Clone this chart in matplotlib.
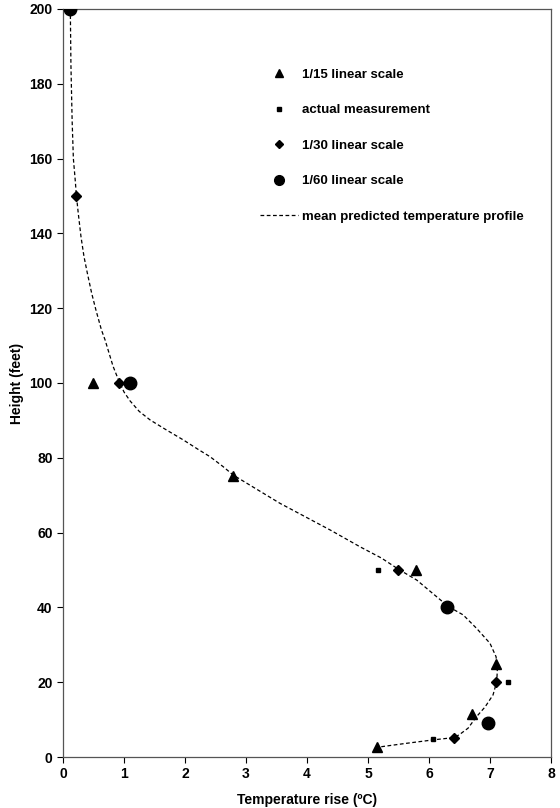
import matplotlib
matplotlib.use("Agg")
import matplotlib.pyplot as plt
from matplotlib.lines import Line2D

plt.rcParams['font.family'] = ['Liberation Sans', 'DejaVu Sans']
plt.rcParams['font.weight'] = 'bold'

# Data (Temperature rise in degC, Height in feet)
tri_x = [0.50, 2.78, 5.78, 7.10, 6.70, 5.15]
tri_y = [100, 75, 50, 25, 11.4, 2.6]

meas_x = [5.16, 7.30, 6.07]
meas_y = [50, 20, 4.8]

dia_x = [0.21, 0.91, 5.50, 7.10, 6.41]
dia_y = [150, 100, 50, 20, 5.0]

cir_x = [0.12, 1.10, 6.30, 6.96]
cir_y = [200, 100, 40.2, 9.2]

curve_x = [0.12, 0.13, 0.15, 0.17, 0.20, 0.22, 0.25, 0.295, 0.344, 0.40, 0.47,
           0.54, 0.63, 0.69, 0.74, 0.82, 0.91, 1.00, 1.10, 1.25, 1.43, 1.70,
           1.97, 2.22, 2.41, 2.62, 2.79, 3.56, 4.38, 4.87, 5.22, 5.50, 5.80,
           6.32, 6.56, 6.78, 7.00, 7.10, 7.12, 7.11, 7.05, 6.92, 6.78, 6.64,
           6.50, 6.41, 6.08, 5.60, 5.15]
curve_y = [200, 185, 170, 160, 154.3, 150.1, 145.4, 139.1, 133.8, 129.3, 124,
           119.5, 114.2, 111.5, 108.8, 104.5, 100.8, 97.6, 95.2, 92.4, 90.1, 87.4,
           84.8, 82.2, 80.3, 77.7, 75.4, 67.8, 60.7, 56.2, 53.2, 50.2, 47.3,
           40.2, 38.0, 34.4, 30.4, 26.8, 23.0, 20.1, 16.6, 13.4, 10.8, 7.7,
           6.0, 5.2, 4.6, 3.6, 2.6]

fig = plt.figure(figsize=(5.6, 8.08), dpi=100)
ax = fig.add_axes([0.1125, 0.0631, 0.8714, 0.9258])

ax.plot(curve_x, curve_y, linestyle=(0, (3, 2)), color='black', linewidth=0.9, zorder=2)
ax.plot(tri_x, tri_y, linestyle='none', marker='^', color='black', markersize=7, zorder=3)
ax.plot(meas_x, meas_y, linestyle='none', marker='s', color='black', markersize=3.5, zorder=3)
ax.plot(dia_x, dia_y, linestyle='none', marker='D', color='black', markersize=5, zorder=3)
ax.plot(cir_x, cir_y, linestyle='none', marker='o', color='black', markersize=9, zorder=3)

ax.set_xlim(0, 8)
ax.set_ylim(0, 200)
ax.set_xticks(range(0, 9))
ax.set_yticks(range(0, 201, 20))
ax.tick_params(direction='out', length=4, width=0.8, labelsize=10, colors='black')
for lab in ax.get_xticklabels() + ax.get_yticklabels():
    lab.set_fontweight('bold')
for s in ax.spines.values():
    s.set_color('#555555')
    s.set_linewidth(0.9)

ax.set_xlabel('Temperature rise (ºC)', fontsize=10, fontweight='bold', labelpad=8)
ax.set_ylabel('Height (feet)', fontsize=10, fontweight='bold', labelpad=4)

handles = [
    Line2D([], [], linestyle='none', marker='^', color='black', markersize=6),
    Line2D([], [], linestyle='none', marker='s', color='black', markersize=3),
    Line2D([], [], linestyle='none', marker='D', color='black', markersize=4.5),
    Line2D([], [], linestyle='none', marker='o', color='black', markersize=7),
    Line2D([], [], linestyle=(0, (3, 2)), color='black', linewidth=0.9),
]
labels = ['1/15 linear scale', 'actual measurement', '1/30 linear scale',
          '1/60 linear scale', 'mean predicted temperature profile']
leg = ax.legend(handles, labels, loc='upper left', bbox_to_anchor=(0.379, 0.936),
                frameon=False, labelspacing=1.76, handlelength=2.9,
                handletextpad=0.3, prop={'weight': 'bold', 'size': 9.5})

fig.savefig('out.png', dpi=100)
